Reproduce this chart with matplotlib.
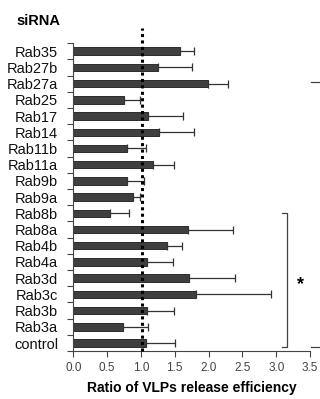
import matplotlib
matplotlib.use("Agg")
import matplotlib.pyplot as plt
import numpy as np

plt.rcParams['font.family'] = ['Liberation Sans', 'DejaVu Sans']

categories = ["control", "Rab3a", "Rab3b", "Rab3c", "Rab3d", "Rab4a", "Rab4b",
              "Rab8a", "Rab8b", "Rab9a", "Rab9b", "Rab11a", "Rab11b", "Rab14",
              "Rab17", "Rab25", "Rab27a", "Rab27b", "Rab35"]
values = [1.07, 0.74, 1.09, 1.81, 1.71, 1.09, 1.39,
          1.70, 0.55, 0.88, 0.80, 1.18, 0.80, 1.26,
          1.10, 0.75, 1.99, 1.25, 1.57]
upper = [1.50, 1.10, 1.49, 2.92, 2.39, 1.47, 1.61,
         2.36, 0.83, 0.99, 1.04, 1.49, 1.07, 1.78,
         1.62, 0.98, 2.28, 1.76, 1.78]
xticks = [0.0, 0.5, 1.0, 1.5, 2.0, 2.5, 3.0, 3.5]

fig = plt.figure(figsize=(3.2, 3.99), dpi=100)
ax = fig.add_axes([0.229, 0.120, 0.740, 0.772])

y = np.arange(len(categories))
err = np.array(upper) - np.array(values)
ax.barh(y, values, height=0.46, color="#3f3f3f", edgecolor="#1a1a1a", linewidth=0.6,
        xerr=[np.zeros_like(err), err], zorder=2,
        error_kw=dict(ecolor="#333333", elinewidth=0.9, capsize=2.8, capthick=0.9))

ax.set_xlim(0, 3.5)
ax.set_ylim(-0.5, len(categories) - 0.5)

# dotted reference line at 1.0
ax.plot([1.01, 1.01], [-0.5, len(categories) - 0.5 + 0.93], color="black",
        linestyle=(0, (1, 1.1)), linewidth=2.2, clip_on=False, zorder=3)

for s in ["top", "right"]:
    ax.spines[s].set_visible(False)
ax.spines["left"].set_color("#444444")
ax.spines["bottom"].set_color("#444444")

ax.set_yticks(np.arange(-0.5, len(categories), 1.0))
ax.set_yticklabels([])
ax.set_yticks(y, minor=True)
ax.set_yticklabels(categories, minor=True, fontsize=10.5, color="#111111")
ax.tick_params(axis="y", which="major", length=4, color="#444444", direction="out")
ax.tick_params(axis="y", which="minor", length=0, pad=11)

ax.set_xticks(xticks)
ax.set_xticklabels([f"{t:.1f}" for t in xticks], fontsize=8.5, color="#444444")
ax.tick_params(axis="x", length=4, color="#444444", pad=3.5)

ax.set_xlabel("Ratio of VLPs release efficiency", fontsize=10, fontweight="bold", labelpad=5.5)

fig.text(0.052, 0.947, "siRNA", fontsize=10.5, fontweight="bold", ha="left", va="center")

# significance bracket
bc = "#444444"
xb = 3.166
ax.plot([3.08, xb, xb, 3.08], [8, 8, -0.23, -0.23], color=bc, linewidth=0.9,
        clip_on=False)
ax.text(3.36, 3.6, "*", fontsize=13, fontweight="bold", ha="center", va="center")
# partial outer bracket
ax.plot([3.51, 3.7], [16.1, 16.1], color=bc, linewidth=0.9, clip_on=False)
ax.plot([3.51, 3.7], [-0.23, -0.23], color=bc, linewidth=0.9, clip_on=False)

fig.savefig("out.png", dpi=100)
